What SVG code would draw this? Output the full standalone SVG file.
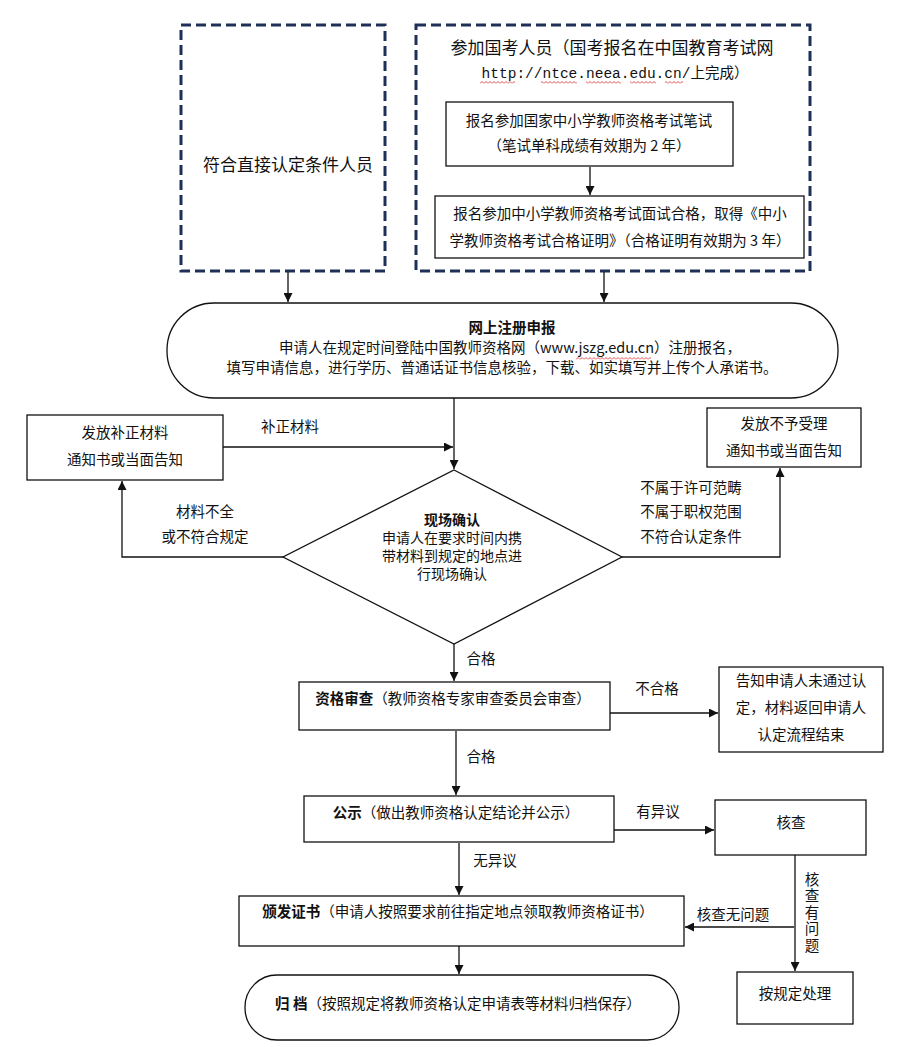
<svg xmlns="http://www.w3.org/2000/svg" width="898" height="1047" viewBox="0 0 898 1047">
<style>
text{font-family:"Noto Sans CJK SC","Liberation Sans",sans-serif;fill:#111;font-size:14.5px;text-anchor:middle;dominant-baseline:middle}
.b{font-weight:bold}
.big{font-size:17px}
.mono{font-family:"Liberation Mono","Noto Sans CJK SC",monospace}
.box{fill:#fff;stroke:#111;stroke-width:1.3}
.dash{fill:#fff;stroke:#1f3058;stroke-width:3;stroke-dasharray:10,5}
.ln{fill:none;stroke:#111;stroke-width:1.3}
.dt{font-size:14px}
</style>
<defs>
<marker id="ah" viewBox="0 0 10 10" refX="10" refY="5" markerWidth="9" markerHeight="9" markerUnits="userSpaceOnUse" orient="auto">
<path d="M0,0 L10,5 L0,10 Z" fill="#111"/>
</marker>
<pattern id="wave" patternUnits="userSpaceOnUse" width="4" height="3">
<path d="M0,2.5 L2,0.5 L4,2.5" fill="none" stroke="#d22" stroke-width="0.8"/>
</pattern>
</defs>
<rect width="898" height="1047" fill="#fff"/>

<g id="direct">
<rect class="dash" x="181" y="25" width="204" height="246"/>
<text class="big" x="288" y="166">符合直接认定条件人员</text>
</g>
<g id="exam">
<rect class="dash" x="416" y="25" width="394" height="246"/>
<text class="big" x="612" y="49">参加国考人员（国考报名在中国教育考试网</text>
<text class="mono" x="615" y="74" font-size="14.7">http://ntce.neea.edu.cn/上完成）</text>
<rect x="480" y="81" width="35" height="3" fill="url(#wave)"/>
<rect x="541" y="81" width="36" height="3" fill="url(#wave)"/>
<rect x="586" y="81" width="35" height="3" fill="url(#wave)"/>
<rect x="630" y="81" width="26" height="3" fill="url(#wave)"/>
<rect x="665" y="81" width="18" height="3" fill="url(#wave)"/>
</g>
<g id="written">
<rect class="box" x="446" y="102" width="287" height="64"/>
<text x="589" y="122">报名参加国家中小学教师资格考试笔试</text>
<text x="589" y="147">（笔试单科成绩有效期为 2 年）</text>
</g>
<g id="interview">
<rect class="box" x="435" y="196" width="369" height="62"/>
<text x="620" y="215" font-size="14">报名参加中小学教师资格考试面试合格，取得《中小</text>
<text x="620" y="242" font-size="14">学教师资格考试合格证明》（合格证明有效期为 3 年）</text>
</g>
<g id="online">
<rect class="box" x="167" y="303" width="671" height="95" rx="47" ry="47"/>
<text class="b" x="512" y="329">网上注册申报</text>
<text x="510" y="349">申请人在规定时间登陆中国教师资格网（www.jszg.edu.cn）注册报名，</text>
<rect x="576" y="357" width="75" height="3" fill="url(#wave)"/>
<text x="502" y="369">填写申请信息，进行学历、普通话证书信息核验，下载、如实填写并上传个人承诺书。</text>
</g>
<g id="supplement">
<rect class="box" x="27" y="415" width="196" height="65"/>
<text x="125" y="434">发放补正材料</text>
<text x="125" y="461">通知书或当面告知</text>
</g>
<g id="reject">
<rect class="box" x="707" y="408" width="154" height="59"/>
<text x="784" y="425">发放不予受理</text>
<text x="784" y="452">通知书或当面告知</text>
</g>
<g id="confirm">
<polygon class="box" points="454,470 622,557 454,644 283,557"/>
<text class="b dt" x="452" y="521">现场确认</text>
<text class="dt" x="452" y="539">申请人在要求时间内携</text>
<text class="dt" x="452" y="557">带材料到规定的地点进</text>
<text class="dt" x="452" y="575">行现场确认</text>
</g>
<g id="review">
<rect class="box" x="299" y="682" width="311" height="48"/>
<text x="453" y="700"><tspan class="b">资格审查</tspan>（教师资格专家审查委员会审查）</text>
</g>
<g id="fail">
<rect class="box" x="719" y="667" width="164" height="85"/>
<text x="801" y="682">告知申请人未通过认</text>
<text x="801" y="709">定，材料返回申请人</text>
<text x="801" y="736">认定流程结束</text>
</g>
<g id="publicity">
<rect class="box" x="304" y="796" width="310" height="46"/>
<text x="456" y="814"><tspan class="b">公示</tspan>（做出教师资格认定结论并公示）</text>
</g>
<g id="verify">
<rect class="box" x="715" y="800" width="151" height="55"/>
<text x="791" y="824">核查</text>
</g>
<g id="issue">
<rect class="box" x="239" y="896" width="445" height="50"/>
<text x="458" y="913"><tspan class="b">颁发证书</tspan>（申请人按照要求前往指定地点领取教师资格证书）</text>
</g>
<g id="handle">
<rect class="box" x="737" y="972" width="116" height="52"/>
<text x="795" y="995">按规定处理</text>
</g>
<g id="archive">
<rect class="box" x="245" y="975" width="434" height="65" rx="32" ry="32"/>
<text x="458" y="1005"><tspan class="b">归 档</tspan>（按照规定将教师资格认定申请表等材料归档保存）</text>
</g>

<g id="connectors">
<line class="ln" x1="590" y1="167" x2="590" y2="195" marker-end="url(#ah)"/>
<line class="ln" x1="288" y1="272" x2="288" y2="302" marker-end="url(#ah)"/>
<line class="ln" x1="604" y1="272" x2="604" y2="302" marker-end="url(#ah)"/>
<line class="ln" x1="454" y1="398" x2="454" y2="469" marker-end="url(#ah)"/>
<line class="ln" x1="223" y1="447" x2="453" y2="447" marker-end="url(#ah)"/>
<text x="290" y="428">补正材料</text>
<polyline class="ln" points="283,557 122,557 122,481" marker-end="url(#ah)"/>
<text x="205" y="513">材料不全</text>
<text x="205" y="538">或不符合规定</text>
<polyline class="ln" points="622,557 780,557 780,468" marker-end="url(#ah)"/>
<text x="691" y="489">不属于许可范畴</text>
<text x="691" y="513">不属于职权范围</text>
<text x="691" y="538">不符合认定条件</text>
<line class="ln" x1="454" y1="644" x2="454" y2="681" marker-end="url(#ah)"/>
<text x="481" y="660">合格</text>
<line class="ln" x1="610" y1="713" x2="718" y2="713" marker-end="url(#ah)"/>
<text x="657" y="690">不合格</text>
<line class="ln" x1="456" y1="731" x2="456" y2="795" marker-end="url(#ah)"/>
<text x="481" y="758">合格</text>
<line class="ln" x1="614" y1="830" x2="714" y2="830" marker-end="url(#ah)"/>
<text x="658" y="813">有异议</text>
<line class="ln" x1="459" y1="843" x2="459" y2="895" marker-end="url(#ah)"/>
<text x="495" y="862">无异议</text>
<line class="ln" x1="795" y1="855" x2="795" y2="971" marker-end="url(#ah)"/>
<text x="812" y="913" writing-mode="tb" letter-spacing="2" style="dominant-baseline:central">核查有问题</text>
<line class="ln" x1="794" y1="927" x2="685" y2="927" marker-end="url(#ah)"/>
<text x="733" y="916">核查无问题</text>
<line class="ln" x1="459" y1="946" x2="459" y2="974" marker-end="url(#ah)"/>
</g>
</svg>
